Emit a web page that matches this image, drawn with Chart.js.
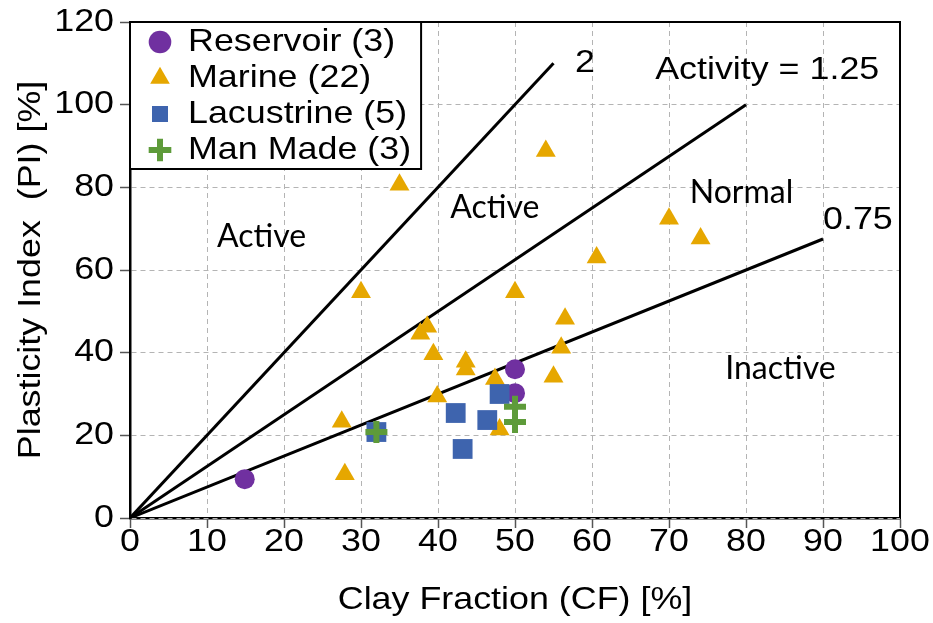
<!DOCTYPE html>
<html><head><meta charset="utf-8">
<script src="https://cdn.jsdelivr.net/npm/chart.js@4.4.1/dist/chart.umd.min.js"></script>
<style>html,body{margin:0;padding:0;background:#fff;}canvas{display:block;}</style>
</head><body>
<canvas id="c" width="933" height="623"></canvas>
<script>
// ---------- data ----------
const xTickValues = [0, 10, 20, 30, 40, 50, 60, 70, 80, 90, 100];
const yTickValues = [0, 20, 40, 60, 80, 100, 120];
const seriesNames = ['Reservoir (3)', 'Marine (22)', 'Lacustrine (5)', 'Man Made (3)'];

const reservoirCF = [14.9, 50, 50];
const reservoirPI = [9.4, 36, 30.2];

const marineCF = [35, 54, 30, 50, 38.6, 37.7, 39.4, 43.6, 43.6, 39.9, 27.5, 27.9, 47.4, 48, 55, 56, 56.5, 60.6, 70, 74.1];
const marinePI = [80.6, 88.8, 54.6, 54.6, 46.3, 44.6, 39.6, 37.8, 35.9, 29.4, 23.3, 10.6, 33.6, 21.4, 34.2, 41.2, 48.2, 63, 72.4, 67.6];

const lacustrineCF = [32, 42.3, 43.2, 46.4, 48];
const lacustrinePI = [20.8, 25.4, 16.7, 23.7, 30];

const manMadeCF = [32, 50, 50];
const manMadePI = [20.8, 26.9, 23.2];

const activityValues = [2, 1.25, 0.75];
const activityLineEndCF = [55, 80, 90];
const activityLabels = ['2', 'Activity = 1.25', '0.75'];
const activityLabelCF = [57.8, 68.2, 90];
const activityLabelPI = [110, 108.4, 72];

const zoneLabels = ['Active', 'Active', 'Normal', 'Inactive'];
const zoneLabelCF = [11.3, 41.6, 72.7, 77.3];
const zoneLabelPI = [68, 75, 78.6, 36.2];

// ---------- horizontally wide sans text (as in the reference) ----------
const STRETCH = 1.12;
const proto = CanvasRenderingContext2D.prototype;
const origFill = proto.fillText, origMeasure = proto.measureText;
const isWide = c => /Liberation Sans/i.test(c.font);
proto.fillText = function (t, x, y, mw) {
  if (!isWide(this)) {
    return mw === undefined ? origFill.call(this, t, x, y) : origFill.call(this, t, x, y, mw);
  }
  this.save();
  this.translate(x, y);
  this.scale(STRETCH, 1);
  if (mw === undefined) origFill.call(this, t, 0, 0); else origFill.call(this, t, 0, 0, mw / STRETCH);
  this.restore();
};
proto.measureText = function (t) {
  const m = origMeasure.call(this, t);
  if (!isWide(this)) return m;
  return {
    width: m.width * STRETCH,
    actualBoundingBoxAscent: m.actualBoundingBoxAscent,
    actualBoundingBoxDescent: m.actualBoundingBoxDescent,
    actualBoundingBoxLeft: m.actualBoundingBoxLeft * STRETCH,
    actualBoundingBoxRight: m.actualBoundingBoxRight * STRETCH,
    fontBoundingBoxAscent: m.fontBoundingBoxAscent,
    fontBoundingBoxDescent: m.fontBoundingBoxDescent
  };
};

// ---------- styles ----------
const PURPLE = '#7030A0', GOLD = '#E6A700', BLUE = '#3E64AE', GREEN = '#5E9B3A';
const FS = 32;
const toPts = (xs, ys) => xs.map((x, i) => ({ x: x, y: ys[i] }));

const pointSets = [
  { label: seriesNames[0], data: toPts(reservoirCF, reservoirPI), pointStyle: 'circle', pointRadius: 10,
    backgroundColor: PURPLE, borderColor: PURPLE, pointBorderWidth: 0, order: 4 },
  { label: seriesNames[1], data: toPts(marineCF, marinePI), pointStyle: 'triangle', pointRadius: 11.5,
    backgroundColor: GOLD, borderColor: GOLD, pointBorderWidth: 0, order: 3 },
  { label: seriesNames[2], data: toPts(lacustrineCF, lacustrinePI), pointStyle: 'rect', pointRadius: 14,
    backgroundColor: BLUE, borderColor: BLUE, pointBorderWidth: 0, order: 2 },
  { label: seriesNames[3], data: toPts(manMadeCF, manMadePI), pointStyle: 'cross', pointRadius: 11,
    backgroundColor: GREEN, borderColor: GREEN, pointBorderWidth: 6, order: 1 }
];
pointSets.forEach(d => { d.showLine = false; d.pointHoverRadius = d.pointRadius; });

const lineSets = activityValues.map((a, i) => ({
  label: 'Activity ' + a,
  data: [{ x: 0, y: 0 }, { x: activityLineEndCF[i], y: a * activityLineEndCF[i] }],
  showLine: true, borderColor: '#000', backgroundColor: '#000', borderWidth: 3,
  pointRadius: 0, pointHoverRadius: 0, order: 5
}));

// ---------- plugins ----------
const textPlugin = {
  id: 'zoneText',
  afterDatasetsDraw(chart) {
    const { ctx, scales: { x, y } } = chart;
    ctx.save();
    ctx.fillStyle = '#000';
    ctx.textAlign = 'left';
    ctx.textBaseline = 'middle';
    ctx.font = FS + 'px "Liberation Sans"';
    activityLabels.forEach((t, i) => ctx.fillText(t, x.getPixelForValue(activityLabelCF[i]), y.getPixelForValue(activityLabelPI[i])));
    ctx.font = '32px Lato';
    zoneLabels.forEach((t, i) => ctx.fillText(t, x.getPixelForValue(zoneLabelCF[i]), y.getPixelForValue(zoneLabelPI[i])));
    ctx.restore();
  }
};

function drawLegendFrame(chart) {
  const lg = chart.legend, ca = chart.chartArea, ctx = chart.ctx;
  const hb = lg.legendHitBoxes || [];
  let r = lg.left + lg.width, b = lg.top + 150;
  if (hb.length) {
    r = Math.max(...hb.map(h => h.left + h.width)) + 10;
    b = Math.max(...hb.map(h => h.top + h.height)) + 3;
  }
  ctx.save();
  ctx.fillStyle = '#fff';
  ctx.fillRect(ca.left, ca.top, r - ca.left, b - ca.top);
  ctx.lineWidth = 2;
  ctx.strokeStyle = '#000';
  ctx.strokeRect(ca.left, ca.top, r - ca.left, b - ca.top);
  ctx.restore();
}

const legendPlacer = {
  id: 'legendPlacer',
  afterLayout(chart) {
    const lg = chart.legend, ca = chart.chartArea;
    if (!lg) return;
    lg.left = ca.left + 14;
    lg.top = ca.top;
    lg.right = lg.left + lg.width;
    lg.bottom = lg.top + 400;
    if (!lg.__wrapped) {
      const orig = lg.draw;
      lg.draw = function (area) { drawLegendFrame(chart); return orig.call(this, area); };
      lg.__wrapped = true;
    }
  }
};

const boxPlugin = {
  id: 'plotBox',
  afterDraw(chart) {
    const { ctx, chartArea: ca } = chart;
    ctx.save();
    ctx.strokeStyle = '#000';
    ctx.lineWidth = 2;
    ctx.beginPath();
    ctx.moveTo(ca.left, ca.top);
    ctx.lineTo(ca.right, ca.top);
    ctx.lineTo(ca.right, ca.bottom);
    ctx.stroke();
    ctx.restore();
  }
};

// ---------- chart ----------
Chart.defaults.font.family = '"Liberation Sans", Arial, sans-serif';
Chart.defaults.color = '#000';

const axisCommon = (vals) => ({
  type: 'linear',
  afterBuildTicks: s => { s.ticks = vals.map(v => ({ value: v })); },
  grid: { color: '#b4b4b4', lineWidth: 1, z: -1, drawTicks: true, tickLength: 10, tickColor: '#555', tickWidth: 1.5 },
  border: { display: true, color: '#000', width: 2.5, dash: [5, 4], z: -1 }
});

new Chart(document.getElementById('c'), {
  type: 'scatter',
  data: { datasets: [...pointSets, ...lineSets] },
  options: {
    responsive: false,
    animation: false,
    devicePixelRatio: 1,
    events: [],
    layout: { padding: { left: 0, right: 33, top: 22, bottom: 0 } },
    scales: {
      x: Object.assign(axisCommon(xTickValues), {
        min: 0, max: 100,
        ticks: { font: { size: FS, lineHeight: 1 }, color: '#000', padding: -2, maxRotation: 0, autoSkip: false },
        title: { display: true, text: 'Clay Fraction (CF) [%]', font: { size: FS }, color: '#000', padding: { top: 0, bottom: 4 } },
        afterFit: s => { s.height = 105; s.paddingLeft = 0; s.paddingRight = 0; }
      }),
      y: Object.assign(axisCommon(yTickValues), {
        min: 0, max: 120,
        ticks: { font: { size: FS }, color: '#000', padding: 6 },
        title: { display: true, text: 'Plasticity Index  (PI) [%]', font: { size: FS }, color: '#000', padding: { top: 12, bottom: 0 } },
        afterFit: s => { s.width = 130; s.paddingTop = 0; s.paddingBottom = 0; }
      })
    },
    plugins: {
      tooltip: { enabled: false },
      legend: {
        display: true,
        position: 'chartArea',
        align: 'start',
        labels: {
          usePointStyle: true,
          boxWidth: 24,
          boxHeight: 16,
          padding: 4,
          color: '#000',
          font: { size: FS },
          sort: (a, b) => a.datasetIndex - b.datasetIndex,
          filter: item => item.datasetIndex < seriesNames.length
        }
      }
    }
  },
  plugins: [legendPlacer, textPlugin, boxPlugin]
});
</script>
</body></html>
